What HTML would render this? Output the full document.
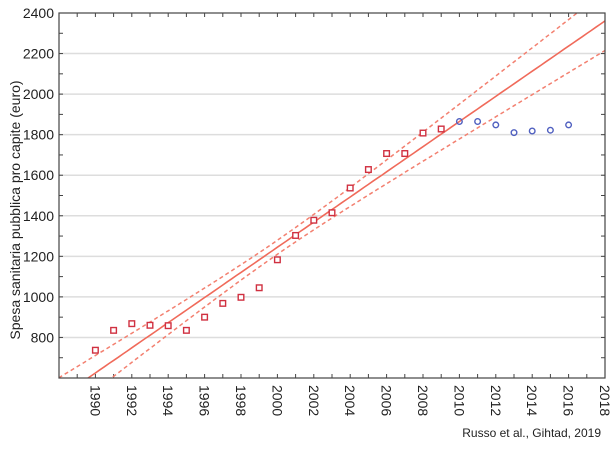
<!DOCTYPE html>
<html><head><meta charset="utf-8"><style>
html,body{margin:0;padding:0;background:#fff;width:615px;height:450px;overflow:hidden}
svg text{font-family:"Liberation Sans",sans-serif;fill:#222}
</style></head><body>
<svg id="s" width="615" height="450" xmlns="http://www.w3.org/2000/svg"></svg>
<script>
const s=document.getElementById('s');
const L=59,R=605,T=13,B=378;
const X=y=>L+(y-1988)*18.2, Y=v=>T+(2400-v)*365/1800;
let h='';
for(let v=800;v<=2200;v+=200) h+=`<line x1="${L}" x2="${R}" y1="${Y(v)}" y2="${Y(v)}" stroke="#ddd" stroke-width="1.5"/>`;
for(let v=600;v<=2400;v+=100){const y=Y(v);h+=`<line x1="${L}" x2="${L+4}" y1="${y}" y2="${y}" stroke="#444"/><line x1="${R}" x2="${R-4}" y1="${y}" y2="${y}" stroke="#444"/>`;}
for(let t=1988;t<=2018;t++){const x=X(t);h+=`<line x1="${x}" x2="${x}" y1="${B}" y2="${B-4}" stroke="#444"/><line x1="${x}" x2="${x}" y1="${T}" y2="${T+4}" stroke="#444"/>`;}
h+=`<defs><clipPath id="c"><rect x="${L}" y="${T}" width="${R-L}" height="${B-T}"/></clipPath></defs><g clip-path="url(#c)">`;
const f=t=>600+62*(t-1989.6), g=t=>Math.sqrt(1200+62*(t-2000)**2);
let p0='',p1='',p2='';
for(let t=1987;t<=2019;t+=0.25){p0+=(p0?'L':'M')+X(t).toFixed(1)+' '+Y(f(t)).toFixed(1);p1+=(p1?'L':'M')+X(t).toFixed(1)+' '+Y(f(t)+g(t)).toFixed(1);p2+=(p2?'L':'M')+X(t).toFixed(1)+' '+Y(f(t)-g(t)).toFixed(1);}
h+=`<path d="${p0}" fill="none" stroke="#f06a5a" stroke-width="1.6"/>`;
h+=`<path d="${p1}" fill="none" stroke="#f38070" stroke-width="1.5" stroke-dasharray="4,3"/>`;
h+=`<path d="${p2}" fill="none" stroke="#f38070" stroke-width="1.5" stroke-dasharray="4,3"/>`;
h+='</g>';
const sq=[737,835,868,860,858,835,900,968,998,1045,1183,1303,1378,1415,1537,1628,1707,1707,1808,1828];
sq.forEach((v,i)=>{const x=X(1990+i),y=Y(v);h+=`<rect x="${x-2.8}" y="${y-2.8}" width="5.6" height="5.6" fill="#fff" stroke="#d03040" stroke-width="1.4"/>`;});
const ci=[1865,1865,1848,1810,1818,1822,1848];
ci.forEach((v,i)=>{h+=`<circle cx="${X(2010+i)}" cy="${Y(v)}" r="2.8" fill="none" stroke="#5060c0" stroke-width="1.4"/>`;});
h+=`<rect x="${L}" y="${T}" width="${R-L}" height="${B-T}" fill="none" stroke="#444" stroke-width="1.2"/>`;
for(let v=800;v<=2400;v+=200) h+=`<text x="${L-5}" y="${Y(v)+5}" text-anchor="end" font-size="14">${v}</text>`;
for(let t=1990;t<=2018;t+=2){const x=X(t);h+=`<text transform="translate(${x-5},${B+7}) rotate(90)" font-size="14">${t}</text>`;}
h+=`<text transform="translate(20,210) rotate(-90)" text-anchor="middle" font-size="14">Spesa sanitaria pubblica pro capite (euro)</text>`;
h+=`<text x="601" y="437" text-anchor="end" font-size="12">Russo et al., Gihtad, 2019</text>`;
s.innerHTML=h;
</script>
</body></html>
